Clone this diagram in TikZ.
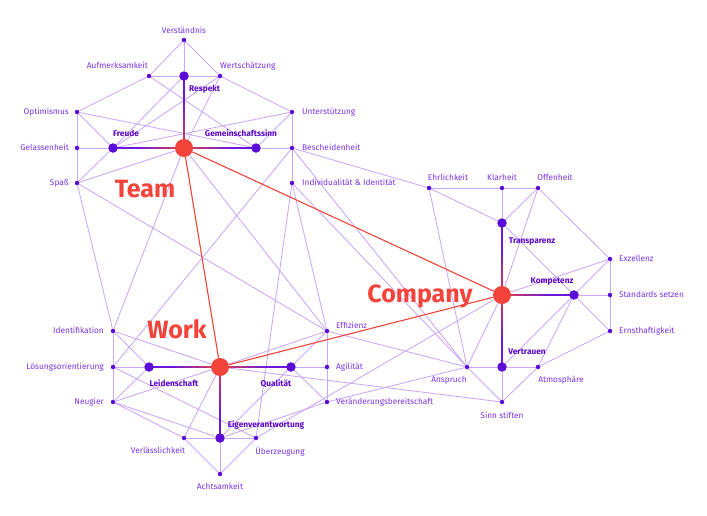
\documentclass[tikz,border=0pt]{standalone}
\usepackage{fontspec}
\setmainfont{Fira Sans}
\usetikzlibrary{calc}
\pgfdeclarelayer{bg}
\pgfdeclarelayer{paper}
\pgfsetlayers{paper,bg,main}
\definecolor{edgec}{HTML}{CBA8F7}
\definecolor{dotc}{HTML}{5A0BD6}
\definecolor{labc}{HTML}{7B34E8}
\definecolor{boldc}{HTML}{5B06C9}
\definecolor{redc}{HTML}{F2443A}
\definecolor{hubp}{HTML}{6A18DC}
\tikzset{
 leaf/.style={circle, fill=dotc, inner sep=0, minimum size=4.5pt},
 sat/.style={circle, fill=dotc, inner sep=0, minimum size=9.5pt},
 hub/.style={circle, fill=redc, inner sep=0, minimum size=18pt},
 lab/.style={text=labc, font=\fontsize{8.3}{10}\selectfont, inner sep=0},
 blab/.style={text=boldc, font=\fontsize{8.3}{10}\selectfont\bfseries, inner sep=0},
 big/.style={text=redc, font=\fontsize{25}{30}\selectfont\bfseries, inner sep=0},
 edge/.style={draw=edgec, line width=0.85pt},
 redge/.style={draw=redc, line width=1.1pt},
}
\begin{document}
\begin{tikzpicture}[x=1pt,y=-1pt]
\begin{pgfonlayer}{paper}
\fill[white] (0,0) rectangle (707,515);
\end{pgfonlayer}
\useasboundingbox (0,0) rectangle (707,515);
% Team cluster
\node[leaf] (ver) at (184,40) {};
\node[leaf] (auf) at (149,76) {};
\node[sat]  (res) at (184,76) {};
\node[leaf] (wer) at (220,76) {};
\node[leaf] (opt) at (77,112) {};
\node[leaf] (unt) at (292,112) {};
\node[leaf] (gel) at (77,148) {};
\node[sat]  (fre) at (113,148) {};
\node[hub]  (team) at (184,148) {};
\node[sat]  (gem) at (256,148) {};
\node[leaf] (bes) at (292,148) {};
\node[leaf] (spa) at (77,183) {};
\node[leaf] (ind) at (292,183) {};
% Work cluster
\node[leaf] (idf) at (113,331) {};
\node[leaf] (los) at (113,367) {};
\node[sat]  (lei) at (149,367) {};
\node[hub]  (work) at (220,367) {};
\node[sat]  (qua) at (291,367) {};
\node[leaf] (agi) at (327,367) {};
\node[leaf] (eff) at (327,331) {};
\node[leaf] (neu) at (113,402) {};
\node[leaf] (vrb) at (327,402) {};
\node[leaf] (vls) at (184,438) {};
\node[sat]  (eig) at (220,438) {};
\node[leaf] (ueb) at (256,438) {};
\node[leaf] (ach) at (220,474) {};
% Company cluster
\node[leaf] (ehr) at (429,188) {};
\node[leaf] (kla) at (502,188) {};
\node[leaf] (off) at (538,188) {};
\node[sat]  (tra) at (502,223) {};
\node[leaf] (exz) at (610,259) {};
\node[hub]  (com) at (502,295) {};
\node[sat]  (kom) at (574,295) {};
\node[leaf] (sta) at (610,295) {};
\node[leaf] (ern) at (610,331) {};
\node[leaf] (ans) at (467,367) {};
\node[sat]  (vtr) at (502,367) {};
\node[leaf] (atm) at (538,367) {};
\node[leaf] (sin) at (502,402) {};

\begin{pgfonlayer}{bg}
\foreach \a/\b in {ver/auf,ver/res,ver/wer,auf/res,res/wer,auf/opt,auf/gem,wer/unt,wer/fre,res/fre,wer/team,
 opt/gel,opt/fre,opt/gem,unt/fre,unt/bes,unt/gem,gel/fre,gem/bes,gel/spa,spa/fre,spa/team,bes/ind,
 spa/idf,spa/eff,team/idf,team/eff,bes/los,bes/ehr,bes/ans,ind/ans,ind/eff,ind/ueb,ehr/ans,ueb/com,
 work/sin,work/eff,eff/ans,vrb/ans,
 idf/los,los/neu,eff/agi,agi/vrb,los/lei,qua/agi,idf/lei,idf/work,neu/lei,neu/work,neu/vls,neu/eig,
 los/ueb,vls/work,vls/eig,eig/ueb,eig/ach,vls/ach,ach/ueb,qua/eff,qua/vrb,qua/eig,eig/vrb,
 ehr/kla,kla/off,ehr/tra,kla/tra,off/tra,off/com,off/exz,tra/kom,exz/sta,sta/ern,exz/com,exz/kom,
 kom/sta,kom/ern,kom/atm,kom/vtr,com/ans,ern/atm,ans/vtr,vtr/atm,ans/sin,vtr/sin,atm/sin}
 {\draw[edge] (\a) -- (\b);}
\draw[redge] (team) -- (work);
\draw[redge] (team) -- (com);
\draw[redge] (work) -- (com);
\foreach \h/\s in {team/res,team/fre,team/gem,work/lei,work/qua,work/eig,com/tra,com/kom,com/vtr}{
 \foreach \i in {0,...,9}{
  \pgfmathsetmacro\ta{\i/10}
  \pgfmathsetmacro\tb{(\i+1)/10}
  \pgfmathsetmacro\pc{max(0,85-14*\i)}
  \draw[line width=1.2pt, color=redc!\pc!hubp] ($(\h)!\ta!(\s)$) -- ($(\h)!\tb!(\s)$);
 }
}
\end{pgfonlayer}

% labels
\node[lab, anchor=mid] (l-ver) at (184,31) {Verständnis};
\node[lab, anchor=mid east] (l-auf) at (148,66) {Aufmerksamkeit};
\node[lab, anchor=mid west] (l-wer) at (220,66) {Wertschätzung};
\node[blab, anchor=mid west] (l-res) at (189,89) {Respekt};
\node[lab, anchor=mid east] (l-opt) at (69,112) {Optimismus};
\node[lab, anchor=mid west] (l-unt) at (302,112) {Unterstützung};
\node[lab, anchor=mid east] (l-gel) at (69,148) {Gelassenheit};
\node[blab, anchor=mid] (l-fre) at (126,134) {Freude};
\node[blab, anchor=mid] (l-gem) at (241,134) {Gemeinschaftssinn};
\node[lab, anchor=mid west] (l-bes) at (302,148) {Bescheidenheit};
\node[lab, anchor=mid east] (l-spa) at (69,183) {Spaß};
\node[lab, anchor=mid west] (l-ind) at (302,183) {Individualität \& Identität};
\node[big, anchor=base] (l-team) at (145,197) {Team};
\node[lab, anchor=mid east] (l-idf) at (104,331) {Identifikation};
\node[lab, anchor=mid east] (l-los) at (104,367) {Lösungsorientierung};
\node[lab, anchor=mid east] (l-neu) at (104,402) {Neugier};
\node[blab, anchor=mid] (l-lei) at (174,384) {Leidenschaft};
\node[blab, anchor=mid] (l-qua) at (276,384) {Qualität};
\node[big, anchor=base] (l-work) at (177,338) {Work};
\node[lab, anchor=mid west] (l-eff) at (336,326) {Effizienz};
\node[lab, anchor=mid west] (l-agi) at (336,367) {Agilität};
\node[lab, anchor=mid west] (l-vrb) at (336,402) {Veränderungsbereitschaft};
\node[blab, anchor=mid] (l-eig) at (266,425) {Eigenverantwortung};
\node[lab, anchor=mid] (l-vls) at (158,451) {Verlässlichkeit};
\node[lab, anchor=mid] (l-ueb) at (280,452) {Überzeugung};
\node[lab, anchor=mid] (l-ach) at (220,487) {Achtsamkeit};
\node[lab, anchor=mid] (l-ehr) at (448,178) {Ehrlichkeit};
\node[lab, anchor=mid] (l-kla) at (502,178) {Klarheit};
\node[lab, anchor=mid] (l-off) at (555,178) {Offenheit};
\node[blab, anchor=mid] (l-tra) at (532,241) {Transparenz};
\node[lab, anchor=mid west] (l-exz) at (619,259) {Exzellenz};
\node[blab, anchor=mid] (l-kom) at (552,281) {Kompetenz};
\node[big, anchor=base] (l-com) at (420,302) {Company};
\node[lab, anchor=mid west] (l-sta) at (619,295) {Standards setzen};
\node[lab, anchor=mid west] (l-ern) at (619,331) {Ernsthaftigkeit};
\node[blab, anchor=mid] (l-vtr) at (527,352) {Vertrauen};
\node[lab, anchor=mid] (l-ans) at (449,380) {Anspruch};
\node[lab, anchor=mid] (l-atm) at (561,380) {Atmosphäre};
\node[lab, anchor=mid] (l-sin) at (502,416) {Sinn stiften};
\end{tikzpicture}
\end{document}
